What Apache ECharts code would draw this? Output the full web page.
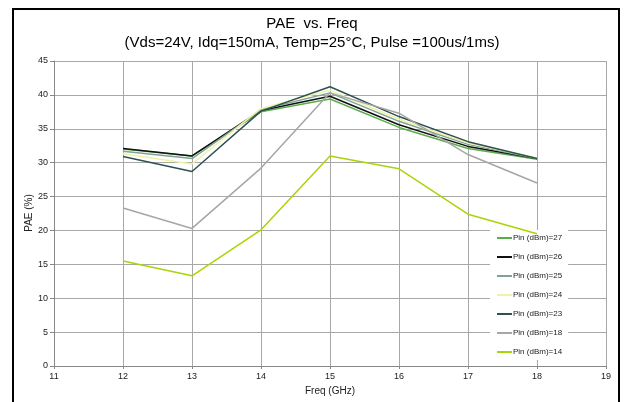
<!DOCTYPE html>
<html><head><meta charset="utf-8">
<script src="https://cdn.jsdelivr.net/npm/echarts@6/dist/echarts.min.js"></script>
<style>html,body{margin:0;padding:0;background:#fff}#c{width:624px;height:402px}</style>
</head><body><div id="c"></div>
<script>
var freqs = [12, 13, 14, 15, 16, 17, 18];
var seriesNames = ['Pin (dBm)=27','Pin (dBm)=26','Pin (dBm)=25','Pin (dBm)=24','Pin (dBm)=23','Pin (dBm)=18','Pin (dBm)=14'];
var pin27 = [32.0, 31.0, 37.5, 39.4, 35.2, 32.1, 30.5];
var pin26 = [32.1, 31.0, 37.7, 39.8, 35.6, 32.4, 30.6];
var pin25 = [31.7, 30.6, 37.8, 40.3, 36.1, 32.7, 30.6];
var pin24 = [31.3, 29.8, 38.0, 40.7, 36.4, 32.9, 30.7];
var pin23 = [30.9, 28.7, 37.6, 41.2, 36.8, 33.1, 30.6];
var pin18 = [23.3, 20.3, 29.2, 40.3, 37.3, 31.2, 27.0];
var pin14 = [15.5, 13.3, 20.1, 31.0, 29.1, 22.4, 19.5];
var colors = ['#5aae4a', '#111111', '#7fa394', '#eef3a8', '#2f5054', '#a6a6a6', '#a9d40a'];
var values = [pin27, pin26, pin25, pin24, pin23, pin18, pin14];
var xTicks = [11, 19, 1];
var yTicks = [0, 45, 5];

var chart = echarts.init(document.getElementById('c'));
var series = values.map(function (v, i) {
  return {
    name: seriesNames[i], type: 'line', showSymbol: false, symbol: 'none',
    data: freqs.map(function (f, j) { return [f, v[j]]; }),
    lineStyle: { color: colors[i], width: 1.5 }, itemStyle: { color: colors[i] },
    z: 2 + i
  };
});
chart.setOption({
  animation: false,
  textStyle: { fontFamily: 'Liberation Sans, Arial, sans-serif' },
  title: {
    text: 'PAE  vs. Freq\n(Vds=24V, Idq=150mA, Temp=25°C, Pulse =100us/1ms)',
    left: 'center', top: 9,
    textStyle: { fontSize: 15, fontWeight: 'normal', color: '#000', lineHeight: 19, fontFamily: 'Liberation Sans, Arial, sans-serif' }
  },
  graphic: [{
    type: 'rect', z: 100, silent: true,
    shape: { x: 13, y: 9, width: 606, height: 400 },
    style: { fill: 'none', stroke: '#000', lineWidth: 2 }
  }, {
    type: 'text', x: 29, y: 213, rotation: Math.PI / 2, silent: true,
    style: { text: 'PAE (%)', fontSize: 10, fill: '#222', align: 'center', verticalAlign: 'middle', fontFamily: 'Liberation Sans, Arial, sans-serif' }
  }],
  grid: { left: 54, right: 18, top: 61, bottom: 36 },
  legend: {
    orient: 'vertical', left: 490, top: 230,
    data: seriesNames,
    icon: 'rect', itemWidth: 15, itemHeight: 2, itemGap: 11,
    backgroundColor: '#fff', padding: [4, 6, 4, 7],
    textStyle: { fontSize: 8, color: '#222', padding: [0, 0, 0, -4] }
  },
  xAxis: {
    type: 'value', min: xTicks[0], max: xTicks[1], interval: xTicks[2],
    name: 'Freq (GHz)', nameLocation: 'middle', nameGap: 20,
    nameTextStyle: { fontSize: 10, color: '#222' },
    axisLine: { lineStyle: { color: '#888' } },
    axisTick: { show: true, length: 3, lineStyle: { color: '#888' } },
    axisLabel: { fontSize: 9, color: '#222', margin: 6 },
    splitLine: { show: true, lineStyle: { color: '#a8a8a8', width: 1 } }
  },
  yAxis: {
    type: 'value', min: yTicks[0], max: yTicks[1], interval: yTicks[2],
    axisLine: { show: true, lineStyle: { color: '#888' } },
    axisTick: { show: true, length: 4, lineStyle: { color: '#888' } },
    axisLabel: { fontSize: 9, color: '#222', margin: 6 },
    splitLine: { show: true, lineStyle: { color: '#a8a8a8', width: 1 } }
  },
  series: series
});
</script></body></html>
